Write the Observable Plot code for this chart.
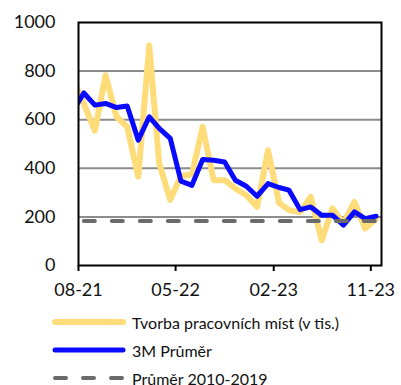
<!DOCTYPE html>
<html>
<head>
<meta charset="utf-8">
<script src="https://cdn.jsdelivr.net/npm/d3@7"></script>
<script src="https://cdn.jsdelivr.net/npm/@observablehq/plot@0.6"></script>
<style>
  body { margin: 0; background: #fff; font-family: Lato, "Open Sans", sans-serif; }
  #legend { margin-top: 8px; }
  .row { display: flex; align-items: center; height: 28px; }
  .row svg { margin-left: 50px; margin-right: 6px; }
  .row span { font-size: 16px; color: #111; }
</style>
</head>
<body>
<div id="chart"></div>
<div id="legend"></div>
<script>
// Monthly job creation in thousands (mid-month points), Jul 2021 – Nov 2023
const months = [
  "2021-07","2021-08","2021-09","2021-10","2021-11","2021-12",
  "2022-01","2022-02","2022-03","2022-04","2022-05","2022-06",
  "2022-07","2022-08","2022-09","2022-10","2022-11","2022-12",
  "2023-01","2023-02","2023-03","2023-04","2023-05","2023-06",
  "2023-07","2023-08","2023-09","2023-10","2023-11"
];
const jobs = [770, 665, 555, 783, 612, 570, 365, 905, 420, 270, 368, 375, 570, 351, 351,
              317, 289, 241, 474, 258, 228, 220, 282, 104, 235, 173, 262, 152, 193];
const avg3m = [635, 710, 660, 667, 650, 656, 516, 612, 564, 523, 347, 330, 436, 433, 426,
               351, 326, 285, 337, 321, 310, 230, 241, 207, 207, 166, 221, 193, 203];
const avg2010 = 183;

const xTicks = ["2021-08", "2022-05", "2023-02", "2023-11"];
const yTicks = [0, 200, 400, 600, 800, 1000];
const gridValues = [200, 400, 600, 800];

const labels = {
  jobs: "Tvorba pracovních míst (v tis.)",
  avg3m: "3M Průměr",
  longRun: "Průměr 2010-2019"
};
const colors = { jobs: "#FFDC7A", avg3m: "#0A0AFF", longRun: "#6b6b6b" };

const parseMonth = s => { const [y, m] = s.split("-").map(Number); return new Date(Date.UTC(y, m - 1, 16)); };
const firstOfMonth = s => { const [y, m] = s.split("-").map(Number); return new Date(Date.UTC(y, m - 1, 1)); };

const rows = months.map((m, i) => ({ date: parseMonth(m), jobs: jobs[i], avg3m: avg3m[i], longRun: avg2010 }));
const longRunRows = rows.slice(1);

const chart = Plot.plot({
  width: 401,
  height: 300,
  marginLeft: 78,
  marginRight: 20,
  marginTop: 22,
  marginBottom: 35,
  style: { fontFamily: "Lato, 'Open Sans', sans-serif", fontSize: "18px", color: "#111", background: "#fff" },
  x: { type: "utc", domain: [firstOfMonth("2021-08"), firstOfMonth("2023-12")] },
  y: { domain: [0, 1000] },
  marks: [
    Plot.ruleY(gridValues, { stroke: "#8c8c8c", strokeWidth: 2 }),
    Plot.line(rows, { x: "date", y: "jobs", stroke: colors.jobs, strokeWidth: 6, strokeLinejoin: "round", clip: true }),
    Plot.line(rows, { x: "date", y: "avg3m", stroke: colors.avg3m, strokeWidth: 5, strokeLinejoin: "round", clip: true }),
    Plot.line(longRunRows, { x: "date", y: "longRun", stroke: colors.longRun, strokeWidth: 4, strokeDasharray: "11,17", strokeLinecap: "round", clip: true }),
    Plot.axisY({ ticks: yTicks, tickFormat: d3.format("d"), tickSize: 0, tickPadding: 23, fontSize: 18, label: null }),
    Plot.axisX({ ticks: xTicks.map(firstOfMonth), tickFormat: d3.utcFormat("%m-%y"), tickSize: 6, tickPadding: 12,
                 stroke: "#000", strokeWidth: 2, fontSize: 18, label: null }),
    Plot.frame({ stroke: "#000", strokeWidth: 2 })
  ]
});
document.getElementById("chart").append(chart);

// Legend below the chart
const legendItems = [
  { key: "jobs", width: 6, dash: null },
  { key: "avg3m", width: 5, dash: null },
  { key: "longRun", width: 4, dash: "11,17" }
];
const legend = d3.select("#legend");
for (const item of legendItems) {
  const row = legend.append("div").attr("class", "row");
  const sw = row.append("svg").attr("width", 76).attr("height", 12);
  sw.append("line")
    .attr("x1", 5).attr("x2", 73).attr("y1", 6).attr("y2", 6)
    .attr("stroke", colors[item.key]).attr("stroke-width", item.width)
    .attr("stroke-linecap", "round")
    .attr("stroke-dasharray", item.dash);
  row.append("span").text(labels[item.key]);
}
</script>
</body>
</html>
